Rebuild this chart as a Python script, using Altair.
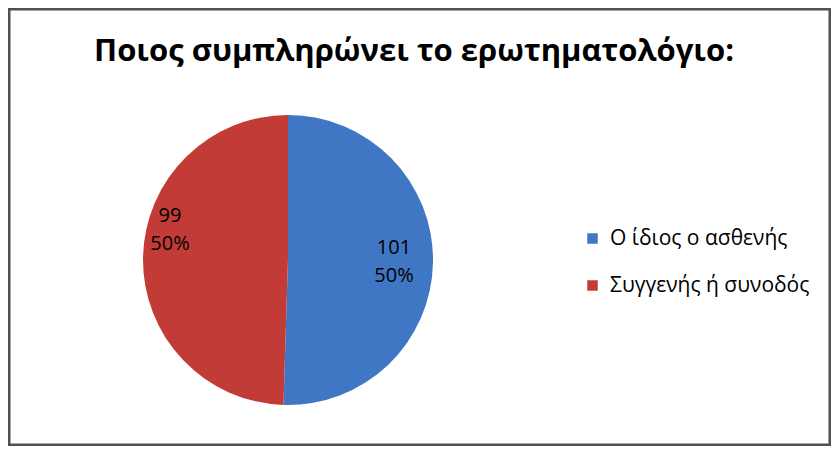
import altair as alt
import pandas as pd

title_text = "Ποιος συμπληρώνει το ερωτηματολόγιο:"
categories = ["Ο ίδιος ο ασθενής", "Συγγενής ή συνοδός"]
counts = [101, 99]
percents = ["50%", "50%"]
colors = ["#3F77C4", "#C23B37"]

df = pd.DataFrame({
    "cat": categories,
    "count": counts,
    "pct": percents,
    "order": [0, 1],
})
df["label"] = df["count"].astype(str) + "\n" + df["pct"]

FONT = "Open Sans"

base = alt.Chart(df).encode(
    theta=alt.Theta("count:Q", stack=True),
    order=alt.Order("order:Q"),
)

pie = base.mark_arc(stroke=None).encode(
    color=alt.Color(
        "cat:N",
        scale=alt.Scale(domain=categories, range=colors),
        sort=categories,
        legend=alt.Legend(
            title=None,
            orient="none",
            legendX=574,
            legendY=220,
            symbolType="square",
            symbolSize=110,
            symbolStrokeWidth=0,
            labelFont=FONT,
            labelFontSize=21,
            labelColor="#000000",
            labelOffset=7,
            rowPadding=25,
            labelLimit=400,
        ),
    ),
    x=alt.value(280),
    y=alt.value(252),
    radius=alt.value(145),
)

lab_blue = base.mark_text(
    font=FONT, fontSize=20, color="#000000", lineHeight=28, align="center",
    baseline="middle", lineBreak="\n", dy=-14
).encode(
    text=alt.Text("lab0:N"),
    x=alt.value(280),
    y=alt.value(252),
    radius=alt.value(106),
).transform_calculate(lab0="datum.order == 0 ? datum.label : ''")

lab_red = base.mark_text(
    font=FONT, fontSize=20, color="#000000", lineHeight=28, align="center",
    baseline="middle", lineBreak="\n", dy=-42
).encode(
    text=alt.Text("lab1:N"),
    x=alt.value(280),
    y=alt.value(252),
    radius=alt.value(118),
).transform_calculate(lab1="datum.order == 1 ? datum.label : ''")

title = alt.Chart(pd.DataFrame({"t": [title_text]})).mark_text(
    font=FONT, fontSize=31, fontWeight="bold", color="#000000", align="center", baseline="alphabetic"
).encode(text="t:N", x=alt.value(406), y=alt.value(53))

chart = alt.layer(pie, lab_blue, lab_red, title).properties(
    width=823,
    height=438,
    padding=0,
    autosize=alt.AutoSizeParams(type="none"),
    background="#FFFFFF",
).configure_view(stroke="#505050", strokeWidth=5)

chart.save("out.html", embed_options={"renderer": "svg", "actions": False})
